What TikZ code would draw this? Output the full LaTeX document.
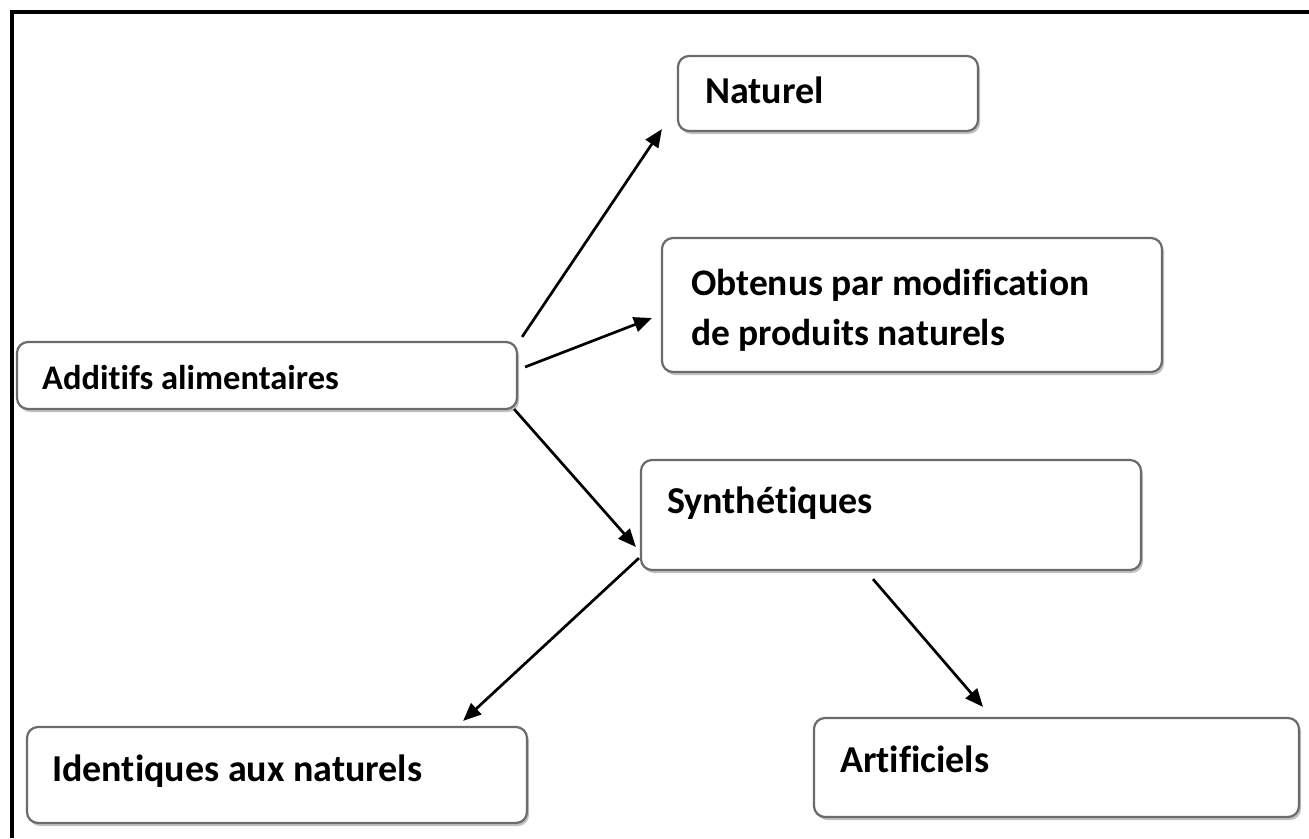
\documentclass[tikz,border=0pt]{standalone}
\usepackage{fontspec}
\setmainfont{Carlito}[Ligatures={NoCommon}]
\usetikzlibrary{arrows.meta,shadows,calc}
\begin{document}
\begin{tikzpicture}[x=1pt,y=1pt,
  box/.style={draw=black!58, line width=2.2pt, rounded corners=11pt, fill=white,
    drop shadow={shadow xshift=2pt, shadow yshift=-3pt, fill=black!30, opacity=0.8},
    inner sep=0pt, anchor=center},
  lbl/.style={anchor=base west, inner sep=0pt, font=\fontsize{38}{50}\selectfont\bfseries},
  arr/.style={line width=2.7pt, -{Triangle[length=18pt,width=15pt]}},
  frame/.style={line width=4pt}]
\useasboundingbox (0,0) rectangle (1309,-838);
% frame
\coordinate (fa) at (12,-838);
\coordinate (fb) at (12,-12);
\coordinate (fc) at (1309,-12);
\draw[frame] (fa) -- (fb) -- (fc);
% boxes
\node[box, minimum width=300pt, minimum height=75pt] (nat) at (828,-93.5) {};
\node[box, minimum width=500pt, minimum height=134pt] (obt) at (912,-305) {};
\node[box, minimum width=500pt, minimum height=67pt] (add) at (267,-375.5) {};
\node[box, minimum width=500pt, minimum height=110pt] (syn) at (891,-515) {};
\node[box, minimum width=500pt, minimum height=96pt] (ide) at (277,-775) {};
\node[box, minimum width=485pt, minimum height=99pt] (art) at (1056.5,-767.5) {};
% labels
\node[lbl] (tnat) at ($(nat.north west)+(28,-49)$) {Naturel};
\node[lbl, font=\fontsize{37.5}{50}\selectfont\bfseries] (tobt1) at ($(obt.north west)+(30,-59)$) {Obtenus par modification};
\node[lbl, font=\fontsize{37.5}{50}\selectfont\bfseries] (tobt2) at ($(obt.north west)+(30,-109)$) {de produits naturels};
\node[lbl, font=\fontsize{34.5}{50}\selectfont\bfseries] (tadd) at ($(add.north west)+(26,-49)$) {Additifs alimentaires};
\node[lbl] (tsyn) at ($(syn.north west)+(27,-55)$) {Synthétiques};
\node[lbl] (tide) at ($(ide.north west)+(26,-56)$) {Identiques aux naturels};
\node[lbl] (tart) at ($(art.north west)+(27,-56)$) {Artificiels};
% arrows
\draw[arr] ($(add.north east)+(4,4)$) -- ($(nat.south west)+(-15,3)$);
\draw[arr] ($(add.east)+(7,8.5)$) -- ($(obt.west)+(-9,-13)$);
\draw[arr] ($(add.south east)+(-4,1)$) -- ($(syn.west)+(-4,-32)$);
\draw[arr] ($(syn.south west)+(-1,13)$) -- ($(ide.north east)+(-65,5)$);
\draw[arr] ($(syn.south)+(-18,-8)$) -- ($(art.north)+(-73.5,10)$);
\end{tikzpicture}
\end{document}
